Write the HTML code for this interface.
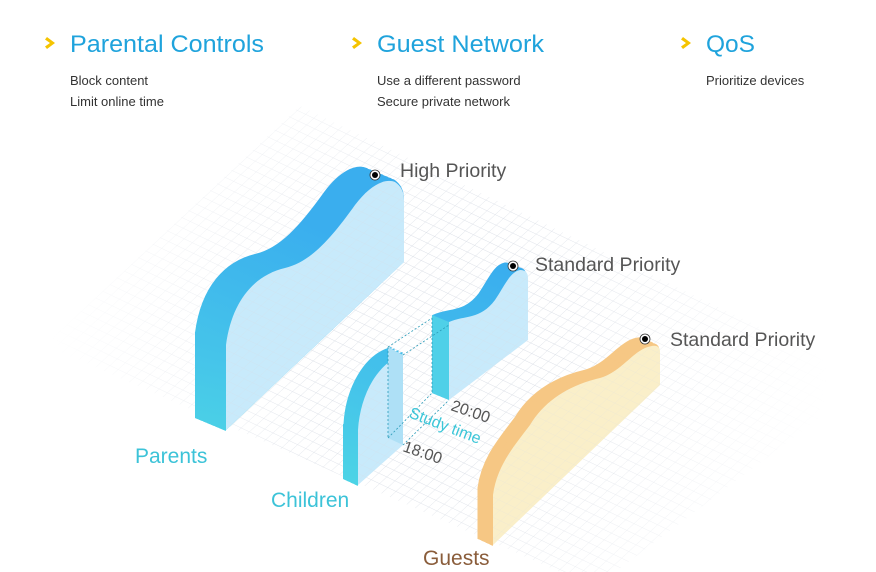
<!DOCTYPE html>
<html><head><meta charset="utf-8"><style>
html,body{margin:0;padding:0;background:#fff;width:876px;height:572px;overflow:hidden;font-family:"Liberation Sans",sans-serif}
svg{display:block}
</style></head><body>
<svg width="876" height="572" viewBox="0 0 876 572" xmlns="http://www.w3.org/2000/svg" font-family="Liberation Sans, sans-serif">
<defs>
<pattern id="g" patternUnits="userSpaceOnUse" width="1" height="1" patternTransform="matrix(7.2,-6.7,8.2,3.9,45,345)">
<path d="M0,0H1M0,0V1" stroke="#d6dbe4" stroke-width="0.09" fill="none"/>
</pattern>
<radialGradient id="fade" cx="440" cy="350" r="390" gradientUnits="userSpaceOnUse">
<stop offset="0.3" stop-color="#fff"/><stop offset="1" stop-color="#000"/>
</radialGradient>
<mask id="m"><rect width="876" height="572" fill="url(#fade)"/></mask>
<linearGradient id="bd" gradientUnits="userSpaceOnUse" x1="0" y1="430" x2="60" y2="170"><stop offset="0" stop-color="#4ed8e4"/><stop offset="0.45" stop-color="#45c4ea"/><stop offset="1" stop-color="#3aaeee"/></linearGradient>
<clipPath id="cP"><polygon points="0,0 876,0 876,262 404,262 226,431 195,418 0,418"/></clipPath>
<clipPath id="cA"><polygon points="0,0 876,0 876,445 403,445 358,486 343,479 0,479"/></clipPath>
<clipPath id="cB"><polygon points="0,0 876,0 876,340 528,340 449,400 432,393 0,393"/></clipPath>
<clipPath id="cG"><polygon points="0,0 876,0 876,385 660,385 493,546 478,539 0,539"/></clipPath>
<path id="P" d="M226,430 L226,345 C232,300 255,275 285,268 C310,262 330,240 355,205 C370,185 385,178 395,182 Q404,188 404,200 L404,262 Z"/>
<path id="A" d="M358,485 L358,430 C360,395 378,362 403,355 L403,445 Z"/>
<path id="B" d="M449,400 L449,322 C465,315 480,320 495,300 C505,285 510,272 520,270 Q528,270 528,278 L528,340 Z"/>
<path id="G" d="M493,545 L493,495 C497,465 515,445 530,425 C545,400 570,385 600,378 C620,372 630,355 645,348 Q660,342 660,352 L660,385 Z"/>
</defs>
<polygon points="45,345 300,106 870,380 615,572 560,572" fill="url(#g)" mask="url(#m)"/>

<!-- Parents -->
<g fill="url(#bd)" stroke="url(#bd)" stroke-width="4" clip-path="url(#cP)">
<use href="#P" transform="translate(-29,-12.2)"/><use href="#P" transform="translate(-25,-10.5)"/><use href="#P" transform="translate(-21,-8.8)"/><use href="#P" transform="translate(-17,-7.1)"/><use href="#P" transform="translate(-13,-5.5)"/><use href="#P" transform="translate(-9,-3.8)"/><use href="#P" transform="translate(-5,-2.1)"/><use href="#P" transform="translate(-2,-0.8)"/>
<polygon points="195,332 226,345 226,431 195,418" stroke="none"/>
</g>
<use href="#P" fill="#c8eafb"/>
<use href="#P" fill="url(#g)" opacity="0.45"/>

<!-- Children -->
<g fill="url(#bd)" stroke="url(#bd)" stroke-width="3" clip-path="url(#cA)">
<use href="#A" transform="translate(-13,-6)"/><use href="#A" transform="translate(-10,-4.6)"/><use href="#A" transform="translate(-6,-2.8)"/><use href="#A" transform="translate(-2,-1)"/>
<polygon points="343,424 358,430 358,486 343,479" stroke="none"/>
</g>
<g fill="url(#bd)" stroke="url(#bd)" stroke-width="3" clip-path="url(#cB)">
<use href="#B" transform="translate(-15,-6)"/><use href="#B" transform="translate(-11,-4.5)"/><use href="#B" transform="translate(-7,-2.9)"/><use href="#B" transform="translate(-3,-1.2)"/>
</g>
<use href="#A" fill="#c8eafb"/><use href="#B" fill="#c8eafb"/>
<use href="#A" fill="url(#g)" opacity="0.45"/><use href="#B" fill="url(#g)" opacity="0.45"/>
<polygon points="403,355 388,347 388,438 403,445" fill="#aee0f6"/>
<polygon points="449,322 432,315 432,393 449,400" fill="#4fd0e8"/>
<g stroke="#2a9bb8" stroke-width="0.8" stroke-dasharray="2,2" fill="none">
<path d="M388,347L432,318M403,355L449,325M388,438L432,393M403,445L449,400M388,347V438M432,318V393"/>
</g>

<!-- Guests -->
<g fill="#f6c784" stroke="#f6c784" stroke-width="3" clip-path="url(#cG)">
<use href="#G" transform="translate(-14,-7)"/><use href="#G" transform="translate(-10,-5)"/><use href="#G" transform="translate(-6,-3)"/><use href="#G" transform="translate(-2,-1)"/>
<polygon points="478,488 493,495 493,546 478,539" stroke="none"/>
</g>
<use href="#G" fill="#faefc9"/>
<use href="#G" fill="url(#g)" opacity="0.3"/>

<!-- dots -->
<g><circle cx="375" cy="175" r="5" fill="#fff" stroke="#333" stroke-width="0.8"/><circle cx="375" cy="175" r="3" fill="#000"/>
<circle cx="513" cy="266" r="5" fill="#fff" stroke="#333" stroke-width="0.8"/><circle cx="513" cy="266" r="3" fill="#000"/>
<circle cx="645" cy="339" r="5" fill="#fff" stroke="#333" stroke-width="0.8"/><circle cx="645" cy="339" r="3" fill="#000"/></g>

<!-- labels -->
<g font-size="19.5" fill="#555">
<text x="400" y="177">High Priority</text>
<text x="535" y="271">Standard Priority</text>
<text x="670" y="346">Standard Priority</text>
</g>
<g font-size="16" fill="#555">
<text x="450" y="410" transform="rotate(19 450 410)">20:00</text>
<text x="402" y="451" transform="rotate(19 402 451)">18:00</text>
</g>
<text x="408" y="417" font-size="16" fill="#3cc6d8" transform="rotate(21 408 417)">Study time</text>
<g font-size="21">
<text x="135" y="463" fill="#3cc3d8">Parents</text>
<text x="271" y="507" fill="#3cc3d8">Children</text>
<text x="423" y="565" fill="#8a5d3b">Guests</text>
</g>

<!-- header -->
<g fill="#f5c400">
<path d="M47,37 L55,43 L47,49 L45,46.5 L50,43 L45,39.5Z"/>
<path d="M354,37 L362,43 L354,49 L352,46.5 L357,43 L352,39.5Z"/>
<path d="M683,37 L691,43 L683,49 L681,46.5 L686,43 L681,39.5Z"/>
</g>
<g font-size="24" fill="#1fa3dc">
<text x="70" y="52" textLength="194" lengthAdjust="spacingAndGlyphs">Parental Controls</text>
<text x="377" y="52" textLength="167" lengthAdjust="spacingAndGlyphs">Guest Network</text>
<text x="706" y="52" textLength="49" lengthAdjust="spacingAndGlyphs">QoS</text>
</g>
<g font-size="13" fill="#333">
<text x="70" y="85">Block content</text><text x="70" y="106">Limit online time</text>
<text x="377" y="85">Use a different password</text><text x="377" y="106">Secure private network</text>
<text x="706" y="85">Prioritize devices</text>
</g>
</svg>
</body></html>
